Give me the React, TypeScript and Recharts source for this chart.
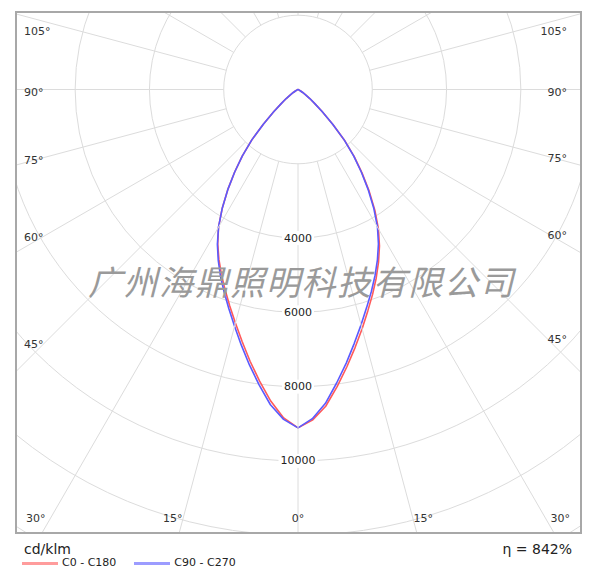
import React from "react";
import { RadarChart, Radar, PolarGrid, PolarAngleAxis, PolarRadiusAxis } from "recharts";

// gamma angles (deg from nadir) and intensities in cd/klm
const gamma = [0, 2.5, 5, 7.5, 10, 12.5, 15, 17.5, 20, 22.5, 25, 27.5, 30, 32.5, 35, 37.5, 40, 42.5, 45, 47.5, 50, 52.5, 55, 57.5, 60, 65, 70, 80, 90, 120, 150, 180];
const c0 = [9110, 8910, 8560, 8070, 7580, 7110, 6670, 6250, 5870, 5500, 5130, 4750, 4330, 3850, 3340, 2830, 2350, 1850, 1330, 880, 590, 400, 260, 150, 80, 25, 0, 0, 0, 0, 0, 0];
const c180 = [9110, 8850, 8420, 7920, 7430, 6950, 6510, 6110, 5740, 5390, 5040, 4680, 4280, 3800, 3300, 2800, 2330, 1840, 1320, 880, 590, 400, 260, 150, 80, 25, 0, 0, 0, 0, 0, 0];
const c90 = [9110, 8870, 8480, 7970, 7480, 7000, 6560, 6150, 5780, 5420, 5060, 4690, 4280, 3800, 3300, 2800, 2330, 1840, 1320, 880, 590, 400, 260, 150, 80, 25, 0, 0, 0, 0, 0, 0];
const c270 = [9110, 8890, 8520, 8020, 7530, 7050, 6600, 6190, 5810, 5450, 5080, 4700, 4280, 3800, 3300, 2800, 2330, 1840, 1320, 880, 590, 400, 260, 150, 80, 25, 0, 0, 0, 0, 0, 0];

const ringTicks = [0, 2000, 4000, 6000, 8000, 10000, 12000, 14000];
const ringLabels = [4000, 6000, 8000, 10000];
const angleTicks = [0, 15, 30, 45, 60, 75, 90, 105, 120, 135, 150, 165, 180, 195, 210, 225, 240, 255, 270, 285, 300, 315, 330, 345];

const series = [
  { key: "c0c180", name: "C0 - C180", color: "#ff5a5a" },
  { key: "c90c270", name: "C90 - C270", color: "#5a5aff" },
];

// right half: angle = gamma, left half: angle = 360 - gamma
const rows = [
  ...gamma.map((g, i) => ({ angle: g, c0c180: c0[i], c90c270: c90[i] })),
  ...gamma
    .map((g, i) => ({ angle: 360 - g, c0c180: c180[i], c90c270: c270[i] }))
    .filter((r) => r.angle > 180 && r.angle < 360)
    .reverse(),
];

const W = 563;
const H = 519;
const CX = 281;
const CY = 76.5;
const R = 520;
const R_INNER = (R * 2000) / 14000;
const GRID = "#dcdcdc";
const FONT = '"DejaVu Sans", Verdana, sans-serif';

function AngleTick(props: any) {
  const { payload } = props;
  const v: number = payload.value;
  const rad = (-payload.coordinate * Math.PI) / 180;
  const dx = Math.cos(rad);
  const dy = Math.sin(rad);
  const eps = 1e-9;
  const tL = dx < -eps ? -CX / dx : Infinity;
  const tR = dx > eps ? (W - CX) / dx : Infinity;
  const tT = dy < -eps ? -CY / dy : Infinity;
  const tB = dy > eps ? (H - CY) / dy : Infinity;
  const t = Math.min(tL, tR, tT, tB);
  if (t === tT) return null;
  const label = `${v <= 180 ? v : 360 - v}°`;
  let x = 0;
  let y = 0;
  let anchor: "start" | "middle" | "end" = "middle";
  if (t === tL) {
    x = 7;
    y = Math.max(18, CY + 3 + ((29 - CX) * dy) / dx);
    anchor = "start";
  } else if (t === tR) {
    x = W - 13;
    y = Math.max(18, CY + 3 + ((W - 35 - CX) * dy) / dx);
    anchor = "end";
  } else {
    const xb = CX + ((H - CY) * dx) / dy;
    y = H - 14;
    if (Math.abs(dx) < eps) {
      x = xb;
      anchor = "middle";
    } else if (dx < 0) {
      x = xb + 3;
      anchor = "end";
    } else {
      x = xb - 3;
      anchor = "start";
    }
  }
  return (
    <text x={x} y={y} textAnchor={anchor} dominantBaseline="central" fontSize={11} fontFamily={FONT} fill="#333">
      {label}
    </text>
  );
}

function RingTick({ x, y, payload }: any) {
  if (!ringLabels.includes(payload.value)) return null;
  const s = String(payload.value);
  const w = s.length * 7 + 4;
  return (
    <g>
      <rect x={x - w / 2} y={y - 7} width={w} height={14} fill="#fff" />
      <text x={x} y={y} textAnchor="middle" dominantBaseline="central" fontSize={11} fontFamily={FONT} fill="#222">
        {s}
      </text>
    </g>
  );
}

export default function App() {
  return (
    <div style={{ position: "absolute", left: 0, top: 0, width: 600, height: 580, background: "#fff", fontFamily: FONT }}>
      <div style={{ position: "absolute", left: 15, top: 11, width: W, height: H, border: "2px solid #a8a8a8" }}>
        <RadarChart
          width={W}
          height={H}
          cx={CX}
          cy={CY}
          outerRadius={R}
          startAngle={-90}
          endAngle={270}
          data={rows}
          margin={{ top: 0, right: 0, bottom: 0, left: 0 }}
        >
          <PolarGrid gridType="circle" radialLines={false} stroke={GRID} />
          <PolarAngleAxis
            dataKey="angle"
            type="number"
            domain={[0, 360]}
            ticks={angleTicks}
            axisLine={false}
            orientation="inner"
            tickSize={R - R_INNER}
            stroke={GRID}
            tickLine={{ stroke: GRID }}
            tick={<AngleTick />}
          />
          <PolarRadiusAxis
            angle={-90}
            domain={[0, 14000]}
            ticks={ringTicks}
            axisLine={false}
            tickLine={false}
            tick={<RingTick />}
          />
          {series.map((s) => (
            <Radar
              key={s.key}
              name={s.name}
              dataKey={s.key}
              stroke={s.color}
              strokeWidth={1.6}
              strokeLinejoin="round"
              fill="none"
              fillOpacity={0}
              dot={false}
              isAnimationActive={false}
            />
          ))}
        </RadarChart>
      </div>
      <div
        style={{
          position: "absolute",
          left: 0,
          width: 603,
          top: 264,
          textAlign: "center",
          fontFamily: '"Noto Sans CJK SC", sans-serif',
          fontStyle: "italic",
          fontSize: 34,
          letterSpacing: 1.6,
          lineHeight: "34px",
          color: "#9a9a9a",
          whiteSpace: "nowrap",
          pointerEvents: "none",
        }}
      >
        广州海鼎照明科技有限公司
      </div>
      <div style={{ position: "absolute", left: 24, top: 540, fontSize: 14, lineHeight: "18px", color: "#222" }}>cd/klm</div>
      <div style={{ position: "absolute", right: 28, top: 540, fontSize: 14, lineHeight: "18px", color: "#222" }}>η = 842%</div>
      <div style={{ position: "absolute", left: 22, top: 556, display: "flex", alignItems: "center", fontSize: 11, color: "#222" }}>
        {series.map((s) => (
          <div key={s.key} style={{ display: "flex", alignItems: "center", marginRight: 18 }}>
            <span style={{ display: "inline-block", width: 36, height: 3, background: s.color, opacity: 0.6, marginRight: 4 }} />
            <span style={{ lineHeight: "14px" }}>{s.name}</span>
          </div>
        ))}
      </div>
    </div>
  );
}
